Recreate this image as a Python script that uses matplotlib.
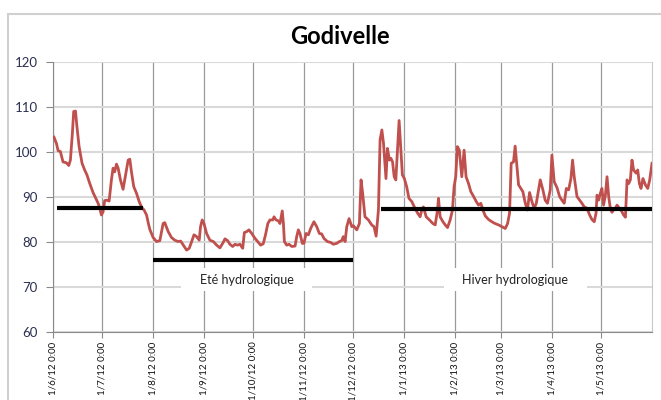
import numpy as np
import pandas as pd
import matplotlib
matplotlib.use('Agg')
import matplotlib.pyplot as plt
import matplotlib.dates as mdates
from matplotlib.patches import Rectangle

plt.rcParams['font.family'] = ['Lato', 'DejaVu Sans']

start = pd.Timestamp('2012-06-01')

# jours depuis le 1/6/12 et niveau
days = [0.6, 2.1, 3.1, 4.5, 6.1, 8.2, 9.6, 10.6, 11.8, 12.6, 13.7, 14.6, 15.9, 17.7,
        19.3, 20.7, 22.4, 24.4, 26.1, 27.5, 28.5, 29.5, 30.5, 31.5, 32.9, 34.2, 35.6,
        36.6, 37.6, 38.7, 39.7, 41.1, 42.7, 44.4, 45.8, 46.8, 47.8, 49.2, 50.9, 52.5,
        53.9, 55.5, 57.0, 58.2, 59.0, 61.0, 63.1, 65.1, 67.1, 68.1, 70.2, 72.2, 74.2,
        76.3, 77.8, 79.4, 81.4, 83.0, 84.5, 85.9, 87.5, 89.1, 89.9, 90.9, 92.0, 93.6,
        95.6, 97.7, 99.7, 101.7, 103.4, 104.8, 106.4, 107.8, 109.5, 110.9, 112.3,
        113.9, 115.6, 116.6, 118.0, 119.4, 121.1, 123.1, 124.5, 126.5, 128.1, 129.5,
        130.9, 132.2, 133.9, 134.7, 135.9, 137.3, 138.3, 139.7, 140.4, 141.0, 142.4,
        143.8, 145.5, 147.5, 148.5, 149.5, 150.5, 151.9, 152.9, 154.2, 155.6, 157.0,
        159.0, 160.7, 162.3, 163.7, 165.1, 167.2, 169.2, 170.8, 172.9, 174.5, 175.9,
        176.9, 178.0, 179.0, 180.4, 182.1, 183.1, 185.1, 186.7, 187.7, 188.7, 190.1,
        192.2, 194.2, 195.6, 196.9, 198.3, 199.3, 200.4, 201.4, 202.9, 203.8, 205.0,
        205.9, 206.9, 207.9, 208.9, 209.9, 210.9, 211.9, 212.9, 214.1, 215.5, 216.9,
        218.6, 220.6, 222.2, 223.7, 224.7, 225.7, 227.4, 229.4, 231.5, 232.9, 234.3,
        234.9, 235.9, 237.6, 239.0, 240.4, 242.0, 243.4, 244.4, 245.4, 246.4, 247.6,
        249.1, 250.5, 251.7, 253.2, 254.6, 256.3, 257.9, 259.3, 260.7, 262.0, 263.4,
        265.4, 267.4, 269.4, 271.5, 273.5, 275.6, 277.0, 278.2, 279.2, 280.6, 281.6,
        282.7, 283.7, 285.1, 286.3, 287.8, 289.1, 290.4, 291.8, 293.2, 294.5, 295.9,
        296.9, 298.5, 299.9, 301.3, 303.0, 304.0, 305.4, 307.1, 308.7, 310.1, 311.5,
        312.8, 314.2, 315.6, 316.6, 317.6, 319.3, 320.9, 322.3, 323.7, 325.4, 327.0,
        328.4, 329.8, 330.9, 331.5, 332.5, 333.5, 334.5, 335.5, 336.6, 337.6, 338.6,
        339.6, 340.6, 341.6, 342.7, 343.7, 344.7, 346.1, 347.7, 348.8, 349.8, 350.8,
        351.8, 352.8, 353.8, 355.3, 356.3, 357.3, 358.3, 359.5, 361.0, 362.4, 363.6,
        365.0]
niveau = [103.3, 101.9, 100.3, 100.1, 97.8, 97.6, 97.0, 98.2, 104.1, 109.0, 109.1, 105.6,
          101.2, 97.5, 96.0, 94.9, 93.0, 91.0, 89.7, 88.6, 87.5, 86.0, 86.7, 89.2, 89.3,
          89.1, 93.8, 96.4, 95.6, 97.3, 96.4, 93.8, 91.7, 95.2, 98.2, 98.4, 95.6, 92.3,
          90.8, 89.0, 87.8, 87.1, 86.0, 84.0, 82.8, 81.0, 80.1, 80.3, 84.1, 84.3, 82.3,
          81.0, 80.4, 80.1, 80.2, 79.3, 78.2, 78.6, 80.1, 81.6, 81.2, 80.4, 83.4, 84.9,
          84.1, 81.9, 80.4, 80.1, 79.3, 78.7, 79.7, 80.7, 80.3, 79.5, 79.0, 79.5, 79.3,
          79.5, 78.6, 82.1, 82.3, 82.7, 81.9, 80.8, 80.2, 79.3, 79.6, 81.6, 84.1, 84.9,
          84.9, 85.6, 84.9, 84.7, 84.1, 86.9, 84.1, 80.1, 79.3, 79.5, 79.0, 79.1, 81.2,
          82.7, 81.9, 79.7, 79.7, 81.9, 81.6, 83.0, 84.5, 83.4, 81.9, 81.8, 80.8, 80.1,
          79.9, 79.5, 79.7, 80.1, 80.3, 81.2, 80.1, 83.4, 85.2, 83.4, 83.6, 82.7, 84.1,
          93.8, 90.8, 85.6, 84.9, 83.8, 83.4, 81.3, 87.1, 102.7, 104.9, 101.9, 94.1,
          100.8, 98.2, 98.6, 97.8, 94.5, 93.8, 100.4, 107.0, 100.8, 94.9, 94.1, 92.3,
          89.7, 89.0, 87.5, 86.4, 85.6, 87.1, 87.8, 85.6, 84.9, 84.1, 83.8, 87.1, 89.7,
          85.6, 84.5, 83.8, 83.2, 84.9, 87.1, 92.3, 94.5, 101.2, 100.4, 94.5, 100.4,
          94.5, 93.0, 91.2, 90.1, 89.0, 88.2, 88.6, 87.1, 85.8, 85.0, 84.5, 84.1, 83.8,
          83.4, 83.0, 84.1, 86.4, 97.5, 97.8, 101.3, 96.7, 92.7, 91.9, 91.2, 88.6, 87.1,
          91.0, 89.0, 87.5, 88.6, 91.6, 93.8, 91.6, 89.3, 88.6, 91.6, 99.3, 93.4, 92.1,
          90.1, 89.3, 88.6, 91.9, 91.6, 94.1, 98.2, 94.5, 90.1, 89.3, 88.6, 87.8, 87.5,
          86.0, 85.0, 84.5, 86.4, 90.4, 89.3, 90.8, 91.9, 88.2, 90.4, 94.5, 90.1, 87.5,
          86.6, 87.1, 87.5, 88.2, 87.7, 87.1, 86.0, 85.5, 93.8, 93.0, 93.8, 98.2, 96.0,
          95.3, 96.0, 93.0, 91.9, 94.1, 92.7, 91.9, 93.8, 97.5]

# moyennes par periode : (jour debut, jour fin, niveau)
moy_debut = [2.4, 61, 200]
moy_fin = [55, 183, 365]
moy_niveau = [87.5, 76.0, 87.4]

labels = ['Eté hydrologique', 'Hiver hydrologique']
label_days = [118, 281.6]
label_y = 71.6

dates = start + pd.to_timedelta(days, unit='D')

fig = plt.figure(figsize=(6.61, 4.0), dpi=100)
ax = fig.add_axes([53 / 661, 1 - 332 / 400, 599 / 661, 270 / 400])

# cadre du graphique Excel
fig.patches.append(Rectangle((8 / 661, -0.1), 1.2, 0.1 + 1 - 14 / 400,
                             transform=fig.transFigure, fill=False,
                             edgecolor='#d0d0d0', lw=1.5, zorder=0))

ax.plot(dates, niveau, color='#C0504D', lw=2, zorder=3)

for d0, d1, v in zip(moy_debut, moy_fin, moy_niveau):
    ax.plot([start + pd.Timedelta(days=d0), start + pd.Timedelta(days=d1)], [v, v],
            color='black', lw=3, solid_capstyle='butt', zorder=4)

for t, d in zip(labels, label_days):
    ax.text(start + pd.Timedelta(days=d), label_y, '    ' + t + '    ', ha='center',
            va='center', fontsize=9, color='#222222', zorder=5,
            bbox=dict(boxstyle='square,pad=0.45', fc='white', ec='none'))

ax.set_ylim(60, 120)
ax.set_yticks(np.arange(60, 121, 10))
ax.set_xlim(start, pd.Timestamp('2013-06-01'))
ax.xaxis.set_major_locator(mdates.MonthLocator())
ax.xaxis.set_major_formatter(plt.FuncFormatter(
    lambda x, p: '{d.day}/{d.month}/{y} 0:00'.format(d=mdates.num2date(x), y=mdates.num2date(x).year % 100)))
ax.set_xticks(ax.get_xticks()[:-1])

ax.grid(axis='y', color='#d9d9d9', lw=1.5, zorder=0)
ax.grid(axis='x', color='#9a9a9a', lw=0.9, zorder=0)
ax.set_axisbelow(True)

ax.spines['top'].set_visible(False)
ax.spines['right'].set_color('#c8c8c8')
ax.spines['left'].set_color('#8a8a8a')
ax.spines['bottom'].set_color('#8a8a8a')

ax.tick_params(axis='y', labelsize=9.5, colors='#8a8a8a', labelcolor='#2b3050', length=5, pad=6)
ax.tick_params(axis='x', labelsize=7, colors='#8a8a8a', labelcolor='#111111', length=4,
               rotation=90, pad=3)

fig.text(340 / 661, 1 - 37 / 400, 'Godivelle', ha='center', va='center',
         fontsize=17, fontweight='bold', color='black')

fig.savefig('out.png', dpi=100)
